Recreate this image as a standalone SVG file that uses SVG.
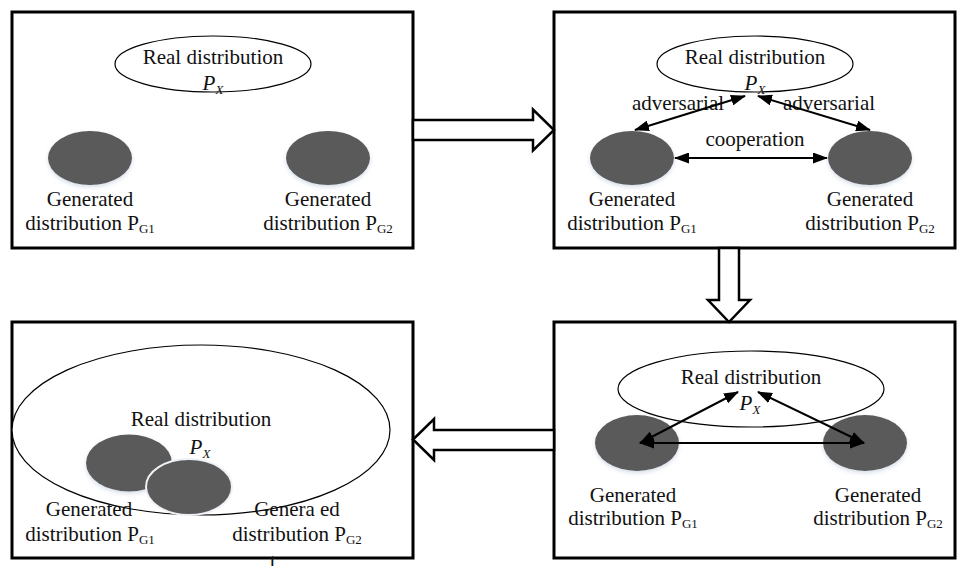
<svg xmlns="http://www.w3.org/2000/svg" width="959" height="566" viewBox="0 0 959 566">
<style>
.box{fill:#fff;stroke:#000;stroke-width:3}
.real{fill:#fff;stroke:#000;stroke-width:1.2}
.blob{fill:#5a5a5a;filter:url(#soft)}
.blob2{fill:#5a5a5a;stroke:#eef1f5;stroke-width:2}
.t{font-family:"Liberation Serif","Times New Roman",serif;font-size:21px;fill:#111;text-anchor:middle}
.sub{font-size:13px}
.it{font-style:italic}
.conn{stroke:#000;stroke-width:2;fill:none}
.block{fill:#fff;stroke:#000;stroke-width:2.5;stroke-linejoin:miter}
</style>
<defs>
<marker id="ah" viewBox="0 0 15 11" markerWidth="15" markerHeight="11" refX="14" refY="5.5" orient="auto-start-reverse" markerUnits="userSpaceOnUse">
<path d="M0,0 L15,5.5 L0,11 z" fill="#000"/>
</marker>
<filter id="soft" x="-20%" y="-20%" width="140%" height="150%">
<feGaussianBlur in="SourceAlpha" stdDeviation="2"/>
<feOffset dy="2" result="b"/>
<feFlood flood-color="#b9c6d8" flood-opacity="0.6"/>
<feComposite in2="b" operator="in" result="s"/>
<feMerge><feMergeNode in="s"/><feMergeNode in="SourceGraphic"/></feMerge>
</filter>
</defs>

<g id="box1">
<rect class="box" x="12" y="12" width="401" height="236"/>
<ellipse class="real" cx="213" cy="64" rx="98" ry="28"/>
<text class="t" x="213" y="64">Real distribution</text>
<text class="t" x="213" y="90"><tspan class="it">P</tspan><tspan class="it sub" dy="4">X</tspan></text>
<ellipse class="blob" cx="90" cy="158" rx="42" ry="27"/>
<ellipse class="blob" cx="328" cy="158" rx="42" ry="27"/>
<text class="t" x="90" y="206">Generated</text>
<text class="t" x="90" y="230">distribution P<tspan class="sub" dy="3">G1</tspan></text>
<text class="t" x="328" y="206">Generated</text>
<text class="t" x="328" y="230">distribution P<tspan class="sub" dy="3">G2</tspan></text>
</g>

<g id="box2">
<rect class="box" x="554" y="12" width="401" height="236"/>
<ellipse class="real" cx="755" cy="64" rx="98" ry="28"/>
<text class="t" x="755" y="64">Real distribution</text>
<text class="t" x="755" y="90"><tspan class="it">P</tspan><tspan class="it sub" dy="4">X</tspan></text>
<ellipse class="blob" cx="632" cy="158" rx="42" ry="27"/>
<ellipse class="blob" cx="870" cy="158" rx="42" ry="27"/>
<text class="t" x="632" y="206">Generated</text>
<text class="t" x="632" y="230">distribution P<tspan class="sub" dy="3">G1</tspan></text>
<text class="t" x="870" y="206">Generated</text>
<text class="t" x="870" y="230">distribution P<tspan class="sub" dy="3">G2</tspan></text>
<text class="t" x="678" y="110">adversarial</text>
<text class="t" x="829" y="110">adversarial</text>
<text class="t" x="755" y="146">cooperation</text>
</g>

<g id="box3">
<rect class="box" x="554" y="322" width="401" height="236"/>
<ellipse class="real" cx="751" cy="389" rx="133" ry="38"/>
<text class="t" x="751" y="384">Real distribution</text>
<text class="t" x="750" y="410"><tspan class="it">P</tspan><tspan class="it sub" dy="4">X</tspan></text>
<ellipse class="blob" cx="637" cy="443" rx="42" ry="28"/>
<ellipse class="blob" cx="865" cy="443" rx="42" ry="28"/>
<text class="t" x="633" y="502">Generated</text>
<text class="t" x="633" y="525">distribution P<tspan class="sub" dy="3">G1</tspan></text>
<text class="t" x="878" y="502">Generated</text>
<text class="t" x="878" y="525">distribution P<tspan class="sub" dy="3">G2</tspan></text>
</g>

<g id="box4">
<rect class="box" x="12" y="322" width="401" height="236"/>
<ellipse class="real" cx="201" cy="430" rx="189" ry="85"/>
<text class="t" x="201" y="426">Real distribution</text>
<text class="t" x="200" y="454"><tspan class="it">P</tspan><tspan class="it sub" dy="4">X</tspan></text>
<ellipse class="blob" cx="129" cy="463" rx="43" ry="28.5"/>
<ellipse class="blob2" cx="189" cy="487" rx="43" ry="28"/>
<text class="t" x="89" y="516">Generated</text>
<text class="t" x="90" y="541">distribution P<tspan class="sub" dy="3">G1</tspan></text>
<text class="t" x="297" y="516">Genera ed</text>
<text class="t" x="297" y="541">distribution P<tspan class="sub" dy="3">G2</tspan></text>
<text class="t" x="273" y="568">t</text>
</g>

<g id="connectors">
<path class="block" d="M413,120 H533 V109.5 L554,130 L533,150.5 V140 H413 Z"/>
<path class="block" d="M719,248 V300 H708 L729,322 L750,300 H739 V248 Z"/>
<path class="block" d="M554,430 H434 V419 L413,439.5 L434,460 V450 H554 Z"/>
<line class="conn" x1="635" y1="130" x2="745" y2="96" marker-start="url(#ah)" marker-end="url(#ah)"/>
<line class="conn" x1="870" y1="130" x2="758" y2="96" marker-start="url(#ah)" marker-end="url(#ah)"/>
<line class="conn" x1="675" y1="158" x2="827" y2="158" marker-start="url(#ah)" marker-end="url(#ah)"/>
<line class="conn" x1="640" y1="443" x2="738" y2="392" marker-start="url(#ah)" marker-end="url(#ah)"/>
<line class="conn" x1="864" y1="443" x2="758" y2="392" marker-start="url(#ah)" marker-end="url(#ah)"/>
<line class="conn" x1="640" y1="443" x2="864" y2="443" marker-start="url(#ah)" marker-end="url(#ah)"/>
</g>
</svg>
